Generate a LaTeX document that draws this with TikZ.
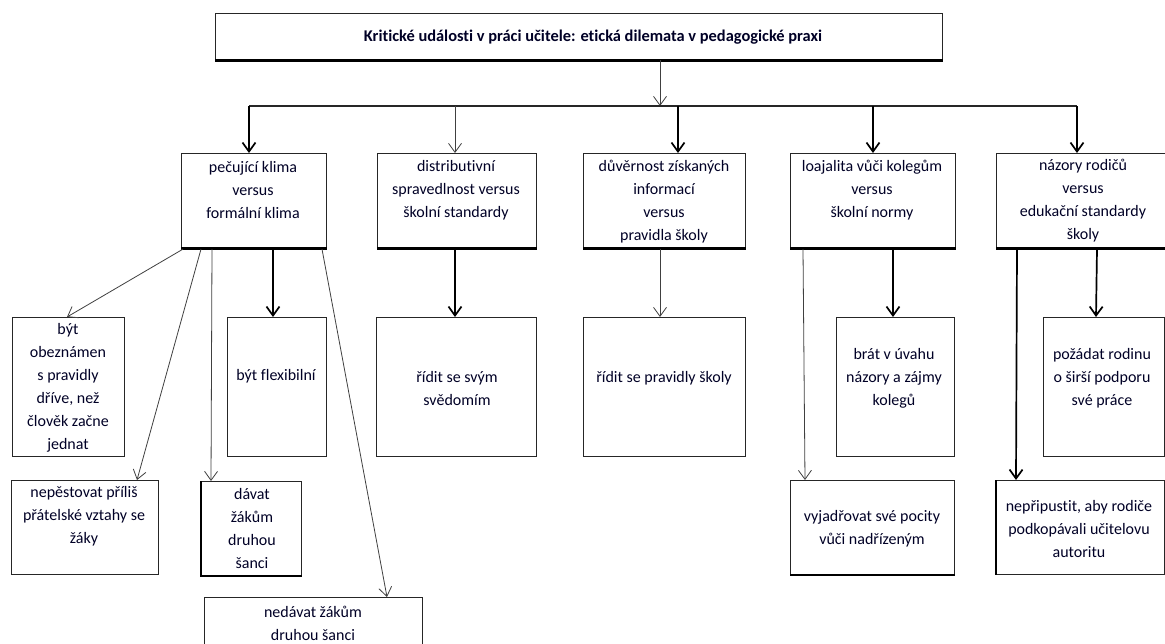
\documentclass[tikz,border=0pt]{standalone}
\usepackage{fontspec}
\setmainfont[Ligatures=NoCommon]{Carlito}
\usetikzlibrary{arrows.meta}
\newcommand\mkbox[5]{\node[box, minimum width={#4pt-#2pt}, minimum height={#5pt-#3pt}] (#1) at (#2,#3) {};}
\begin{document}
\begin{tikzpicture}[x=1pt,y=-1pt,
  box/.style={draw=black!85, line width=1.1pt, inner sep=0pt, anchor=north west},
  txt/.style={align=center, inner sep=0pt, font=\fontsize{16}{23}\selectfont, text=black!85!blue},
  thinarr/.style={draw=black!75, line width=0.8pt, -{Straight Barb[length=9pt,width=13pt]}},
  thickarr/.style={draw=black, line width=1.7pt, -{Straight Barb[length=9pt,width=13pt]}},
  heavy/.style={draw=black, line width=3pt}]
\useasboundingbox[fill=white] (0,0) rectangle (1165,643);

% title
\mkbox{title}{215}{13}{942}{59}
\draw[heavy] (title.south west) -- (title.south east);
\node[txt, font=\bfseries\fontsize{16.4}{18}\selectfont] (ttitle) at (593,37) {Kritické události v práci učitele: etická dilemata v pedagogické praxi};

% level 1
\mkbox{b1}{181}{153}{326}{247}
\mkbox{b2}{377}{153}{536}{247}
\mkbox{b3}{583}{153}{745}{247}
\mkbox{b4}{790}{153}{955}{247}
\mkbox{b5}{996}{153}{1168}{247}
\foreach \b in {b1,b2,b3,b4,b5}{\draw[heavy] (\b.south west) -- (\b.south east);}
\node[txt] (tb1) at (253,190) {pečující klima\\versus\\formální klima};
\node[txt] (tb2) at (456,190) {distributivní\\spravedlnost versus\\školní standardy};
\node[txt] (tb3) at (664,202) {důvěrnost získaných\\informací\\versus\\pravidla školy};
\node[txt] (tb4) at (872,190) {loajalita vůči kolegům\\versus\\školní normy};
\node[txt] (tb5) at (1083,201) {názory rodičů\\versus\\edukační standardy\\školy};

% level 2
\mkbox{l2a}{12}{317}{124}{456}
\mkbox{flex}{227}{317}{326}{456}
\mkbox{ridit1}{376}{317}{536}{456}
\mkbox{ridit2}{583}{317}{745}{456}
\mkbox{brat}{836}{317}{954}{456}
\mkbox{pozadat}{1043}{317}{1164}{456}
\node[txt] (tl2a) at (68,388) {být\\obeznámen\\s pravidly\\dříve, než\\člověk začne\\jednat};
\node[txt] (tflex) at (276,376) {být flexibilní};
\node[txt] (tridit1) at (457,388) {řídit se svým\\svědomím};
\node[txt] (tridit2) at (664,378) {řídit se pravidly školy};
\node[txt] (tbrat) at (894,378) {brát v úvahu\\názory a zájmy\\kolegů};
\node[txt] (tpozadat) at (1102,378) {požádat rodinu\\o širší podporu\\své práce};

% level 3
\mkbox{nepest}{11}{480}{158}{574}
\mkbox{davat}{201}{481}{301}{575}
\mkbox{vyjad}{790}{480}{954}{574}
\mkbox{neprip}{996}{480}{1164}{574}
\mkbox{nedavat}{204}{597}{422}{665}
\draw[line width=2.2pt] (davat.north west) -- (davat.south west) -- (davat.south east);
\draw[line width=1.8pt] (vyjad.south west) -- (vyjad.south east);
\draw[line width=1.8pt] (neprip.north west) -- (neprip.south west);
\node[txt] (tnepest) at (84,516) {nepěstovat příliš\\přátelské vztahy se\\žáky};
\node[txt] (tdavat) at (252,528) {dávat\\žákům\\druhou\\šanci};
\node[txt] (tvyjad) at (872,529) {vyjadřovat své pocity\\vůči nadřízeným};
\node[txt] (tneprip) at (1079,529) {nepřipustit, aby rodiče\\podkopávali učitelovu\\autoritu};
\node[txt] (tnedavat) at (313,623) {nedávat žákům\\druhou šanci};

% hub
\coordinate (hub) at (660,106);
\coordinate (h1) at (249,106);
\coordinate (h2) at (455,106);
\coordinate (h3) at (678,106);
\coordinate (h4) at (873,106);
\coordinate (h5) at (1077,106);
\draw[thinarr] (title.south -| hub) -- (hub);
\draw[line width=1.3pt, black!85] (h1) -- (h5);
\draw[thickarr] (h1) -- (h1 |- b1.north);
\draw[thinarr] (h2) -- (h2 |- b2.north);
\draw[thickarr] (h3) -- (h3 |- b3.north);
\draw[thickarr] (h4) -- (h4 |- b4.north);
\draw[thickarr] (h5) -- (h5 |- b5.north);

% from b1
\draw[thinarr] ([xshift=2pt,yshift=-1pt]b1.south west) -- ([xshift=55pt]l2a.north west);
\draw[thinarr] ([xshift=20pt,yshift=-1pt]b1.south west) -- ([xshift=126pt]nepest.north west);
\draw[thinarr] ([xshift=31pt,yshift=-1pt]b1.south west) -- ([xshift=10pt]davat.north west);
\draw[thickarr] ([xshift=92pt,yshift=-1pt]b1.south west) -- ([xshift=46pt]flex.north west);
\draw[thinarr] ([xshift=141pt,yshift=-1pt]b1.south west) -- ([xshift=183pt]nedavat.north west);
% from b2, b3
\draw[thickarr] ([xshift=78pt,yshift=-1pt]b2.south west) -- ([xshift=79pt]ridit1.north west);
\draw[thinarr] ([xshift=77pt,yshift=-1pt]b3.south west) -- ([xshift=77pt]ridit2.north west);
% from b4
\draw[thinarr] ([xshift=13pt,yshift=-1pt]b4.south west) -- ([xshift=15pt]vyjad.north west);
\draw[thickarr] ([xshift=103pt,yshift=-1pt]b4.south west) -- ([xshift=57pt]brat.north west);
% from b5
\draw[thickarr] ([xshift=21pt,yshift=-1pt]b5.south west) -- ([xshift=20pt]neprip.north west);
\draw[thickarr] ([xshift=101pt,yshift=-1pt]b5.south west) -- ([xshift=53pt]pozadat.north west);
\end{tikzpicture}
\end{document}
